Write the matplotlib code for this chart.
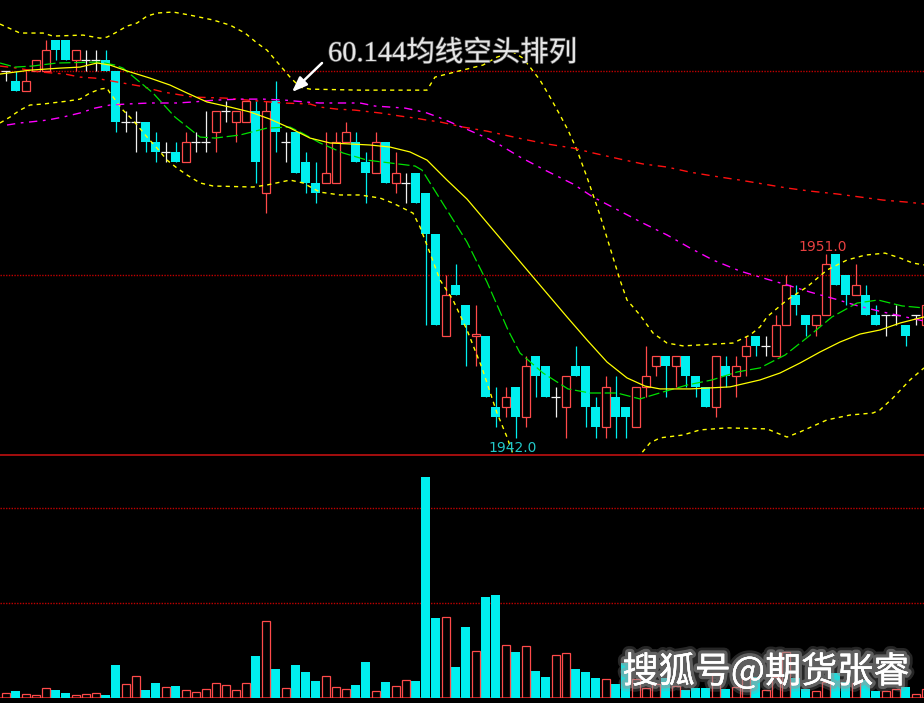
import matplotlib
matplotlib.use('Agg')
import matplotlib.pyplot as plt
import matplotlib.patheffects as pe
import numpy as np

# K线数据 (1分钟), 读自原图
opens = [1960.0, 1959.5, 1959.0, 1960.0, 1960.0, 1961.5, 1961.5, 1960.5, 1960.5, 1960.5,
         1960.5, 1960.0, 1957.5, 1957.5, 1957.5, 1956.5, 1956.0, 1956.0, 1955.5, 1956.5,
         1956.5, 1957.0, 1958.0, 1957.5, 1957.5, 1958.0, 1954.0, 1958.5, 1956.5, 1957.0,
         1955.5, 1954.5, 1954.5, 1954.5, 1956.5, 1956.5, 1955.5, 1955.0, 1956.5, 1954.5,
         1954.5, 1955.0, 1954.0, 1952.0, 1947.0, 1949.5, 1948.5, 1947.0, 1947.0, 1943.5,
         1943.5, 1944.5, 1943.0, 1946.0, 1945.5, 1944.0, 1943.5, 1945.5, 1945.5, 1943.5,
         1942.5, 1944.0, 1943.5, 1942.5, 1944.5, 1945.5, 1946.0, 1945.5, 1946.0, 1945.0,
         1944.5, 1943.5, 1945.5, 1945.0, 1946.0, 1947.0, 1946.5, 1946.0, 1947.5, 1949.0,
         1948.0, 1947.5, 1948.0, 1951.0, 1950.0, 1949.0, 1949.0, 1948.0, 1948.0, 1948.0,
         1947.5, 1948.0, 1947.5]
highs = [1960.0, 1960.0, 1960.0, 1960.5, 1961.5, 1961.5, 1961.5, 1961.0, 1961.0, 1961.0,
         1961.0, 1960.0, 1958.0, 1958.0, 1957.5, 1957.0, 1956.5, 1956.5, 1957.0, 1957.0,
         1958.0, 1958.0, 1958.5, 1958.0, 1958.5, 1958.5, 1958.5, 1959.5, 1957.0, 1957.0,
         1956.0, 1955.5, 1957.0, 1957.0, 1957.5, 1957.0, 1956.0, 1957.0, 1956.5, 1956.0,
         1955.0, 1955.0, 1954.0, 1952.0, 1950.0, 1950.5, 1948.5, 1948.5, 1947.0, 1944.5,
         1944.5, 1944.5, 1946.0, 1946.0, 1945.5, 1944.5, 1945.0, 1946.5, 1945.5, 1944.0,
         1945.0, 1945.0, 1943.5, 1944.5, 1946.5, 1946.0, 1946.0, 1946.0, 1946.0, 1945.0,
         1944.5, 1946.0, 1946.0, 1946.0, 1947.0, 1947.0, 1947.0, 1948.0, 1950.0, 1949.5,
         1948.0, 1948.0, 1951.0, 1951.0, 1950.0, 1950.5, 1949.5, 1948.5, 1948.0, 1948.5,
         1947.5, 1948.0, 1948.5]
lows = [1959.5, 1959.0, 1959.0, 1960.0, 1960.0, 1960.5, 1960.5, 1960.0, 1960.0, 1960.0,
        1960.0, 1957.0, 1957.0, 1956.0, 1956.0, 1955.5, 1955.5, 1955.5, 1955.5, 1956.0,
        1956.0, 1956.0, 1957.5, 1956.5, 1957.5, 1954.5, 1953.0, 1956.0, 1955.5, 1955.0,
        1954.0, 1953.5, 1954.5, 1954.5, 1956.5, 1955.5, 1953.5, 1955.0, 1954.5, 1954.0,
        1953.5, 1953.5, 1947.5, 1947.5, 1947.0, 1949.0, 1945.5, 1945.5, 1944.0, 1942.5,
        1943.0, 1942.0, 1942.5, 1944.0, 1944.0, 1943.0, 1942.0, 1945.0, 1942.5, 1942.0,
        1942.0, 1942.0, 1942.0, 1942.5, 1944.0, 1945.0, 1944.0, 1944.5, 1944.5, 1944.0,
        1943.5, 1943.0, 1944.5, 1944.0, 1945.0, 1946.0, 1946.0, 1946.0, 1947.5, 1948.0,
        1947.0, 1947.0, 1948.0, 1949.5, 1948.5, 1949.0, 1948.0, 1947.5, 1947.0, 1947.5,
        1946.5, 1947.5, 1947.5]
closes = [1960.0, 1959.0, 1959.5, 1960.5, 1961.0, 1961.0, 1960.5, 1961.0, 1960.5, 1960.5,
          1960.0, 1957.5, 1957.5, 1957.5, 1956.5, 1956.0, 1956.0, 1955.5, 1956.5, 1956.5,
          1956.5, 1958.0, 1958.0, 1958.0, 1958.5, 1955.5, 1958.0, 1957.0, 1956.5, 1955.0,
          1954.5, 1954.0, 1955.0, 1956.5, 1957.0, 1955.5, 1955.0, 1956.5, 1954.5, 1955.0,
          1954.5, 1953.5, 1952.0, 1947.5, 1949.0, 1949.0, 1947.5, 1947.1, 1944.0, 1943.0,
          1944.0, 1943.0, 1945.5, 1945.0, 1944.0, 1944.0, 1945.0, 1945.0, 1943.5, 1942.5,
          1944.5, 1943.0, 1943.0, 1944.5, 1945.0, 1946.0, 1945.5, 1946.0, 1945.0, 1944.5,
          1943.5, 1946.0, 1945.0, 1945.5, 1946.5, 1946.5, 1946.5, 1947.5, 1949.5, 1948.5,
          1947.5, 1948.0, 1950.5, 1949.5, 1949.0, 1949.5, 1948.0, 1947.5, 1948.0, 1948.0,
          1947.0, 1948.0, 1948.5]
volumes = [50, 73, 40, 30, 100, 83, 53, 30, 40, 50,
           33, 330, 140, 220, 83, 153, 110, 123, 80, 60,
           90, 150, 130, 80, 150, 423, 770, 293, 100, 330,
           263, 173, 220, 110, 90, 133, 363, 70, 163, 120,
           180, 173, 2213, 803, 810, 313, 713, 470, 1013, 1033,
           530, 463, 520, 273, 213, 430, 450, 293, 263, 203,
           193, 143, 350, 193, 100, 143, 200, 123, 83, 103,
           103, 250, 93, 110, 200, 217, 83, 217, 460, 200,
           93, 73, 167, 257, 167, 150, 183, 73, 73, 93,
           113, 40, 90]

# 均线 / 布林带 (按K线序号取样)
ma_short_x = [-0.55, 0.95, 2.65, 5.15, 9.45, 10.95, 11.75, 14.75, 16.95, 19.45, 20.95, 23.45,
              26.15, 28.45, 29.65, 31.45, 33.75, 36.15, 38.45, 40.95, 41.65, 44.15, 46.15,
              48.15, 50.25, 51.45, 53.75, 56.25, 58.45, 61.15, 63.45, 65.75, 68.15, 70.65,
              73.15, 75.45, 77.95, 80.25, 82.65, 85.15, 87.25, 89.65, 91.85]
ma_short = [1960.37, 1960.17, 1960.22, 1960.37, 1960.42, 1960.27, 1960.12, 1958.90, 1957.72,
            1956.74, 1956.69, 1956.84, 1957.18, 1957.23, 1956.94, 1956.45, 1955.96, 1955.61,
            1955.47, 1955.32, 1955.12, 1953.16, 1951.59, 1949.63, 1947.28, 1946.15, 1945.17,
            1944.39, 1944.19, 1944.19, 1943.90, 1944.24, 1944.58, 1944.83, 1945.22, 1945.42,
            1946.05, 1946.94, 1947.92, 1948.60, 1948.75, 1948.46, 1948.36]
ma_mid_x = [-0.55, 2.45, 5.45, 7.45, 9.15, 10.45, 12.15, 14.45, 16.45, 18.15, 20.15, 22.45,
            24.45, 26.45, 28.45, 30.45, 32.45, 34.45, 36.45, 38.45, 40.45, 42.15, 44.15, 46.15,
            49.45, 52.75, 56.15, 58.15, 60.15, 62.15, 63.95, 65.45, 68.45, 72.45, 75.45, 77.45,
            79.45, 81.45, 83.45, 85.45, 87.45, 89.45, 91.85]
ma_mid = [1959.83, 1960.02, 1960.12, 1960.17, 1960.37, 1960.27, 1959.98, 1959.63, 1959.29,
          1958.90, 1958.46, 1958.21, 1957.97, 1957.62, 1957.18, 1956.69, 1956.45, 1956.40,
          1956.35, 1956.25, 1956.01, 1955.61, 1954.63, 1953.70, 1951.79, 1949.88, 1947.92,
          1946.79, 1945.71, 1944.93, 1944.53, 1944.39, 1944.39, 1944.49, 1944.83, 1945.17,
          1945.66, 1946.20, 1946.69, 1947.08, 1947.28, 1947.62, 1947.92]
ma_60_x = [0.15, 1.45, 2.45, 4.15, 5.75, 7.45, 8.95, 10.45, 12.15, 14.45, 17.15, 18.75, 20.95,
           23.45, 25.75, 27.95, 29.95, 31.45, 33.95, 35.45, 36.95, 38.45, 39.95, 40.95, 42.15,
           43.25, 44.45, 46.75, 48.15, 49.45, 51.45, 54.15, 56.75, 58.75, 61.45, 63.75, 66.15,
           68.45, 70.75, 73.45, 75.75, 78.15, 80.45, 82.95, 85.25, 87.75, 90.45, 91.85]
ma_60 = [1957.33, 1957.43, 1957.48, 1957.57, 1957.72, 1957.92, 1958.16, 1958.31, 1958.36,
         1958.41, 1958.41, 1958.46, 1958.55, 1958.60, 1958.60, 1958.55, 1958.46, 1958.41,
         1958.41, 1958.41, 1958.26, 1958.21, 1958.16, 1958.06, 1957.92, 1957.72, 1957.48,
         1956.99, 1956.69, 1956.35, 1955.76, 1955.07, 1954.44, 1953.80, 1953.11, 1952.52,
         1951.94, 1951.30, 1950.71, 1950.17, 1949.83, 1949.49, 1949.14, 1948.80, 1948.46,
         1948.16, 1947.87, 1947.72]
ma_144_x = [-0.55, 1.15, 3.45, 5.95, 7.45, 8.95, 11.15, 13.45, 15.75, 18.75, 21.95, 25.45,
            27.75, 30.45, 31.45, 33.15, 34.95, 37.45, 39.45, 40.95, 42.15, 43.45, 45.75, 48.15,
            51.75, 54.15, 56.75, 58.75, 61.45, 63.75, 66.15, 68.45, 70.75, 73.45, 75.75, 78.15,
            80.45, 83.15, 85.45, 87.75, 90.15, 91.85]
ma_144 = [1960.22, 1960.12, 1959.93, 1959.83, 1959.68, 1959.63, 1959.44, 1959.24, 1958.95,
          1958.70, 1958.65, 1958.50, 1958.41, 1958.36, 1958.21, 1958.11, 1958.06, 1957.92,
          1957.77, 1957.67, 1957.57, 1957.48, 1957.23, 1957.03, 1956.64, 1956.40, 1956.20,
          1955.96, 1955.66, 1955.42, 1955.27, 1955.02, 1954.83, 1954.63, 1954.44, 1954.24,
          1954.09, 1953.95, 1953.80, 1953.65, 1953.55, 1953.46]
boll_up_x = [-0.55, 1.45, 3.75, 4.75, 7.75, 9.45, 10.15, 10.95, 12.15, 13.15, 14.15, 15.15,
             16.75, 18.45, 20.75, 22.45, 23.95, 25.15, 26.15, 27.25, 28.45, 29.45, 30.45, 35.45,
             42.15, 42.95, 44.95, 47.75, 49.15, 50.75, 51.75, 52.45, 53.45, 54.45, 55.45, 56.25,
             57.15, 58.15, 59.45, 60.75, 61.45, 62.15, 63.45, 64.75, 66.15, 67.75, 72.75, 74.45,
             75.45, 76.15, 78.15, 80.15, 82.15, 84.15, 85.95, 87.95, 89.45, 90.75, 91.85]
boll_up = [1962.28, 1961.84, 1961.84, 1961.69, 1961.74, 1961.59, 1961.64, 1961.84, 1962.18,
           1962.33, 1962.67, 1962.82, 1962.87, 1962.72, 1962.48, 1962.23, 1961.84, 1961.35,
           1961.00, 1960.37, 1959.68, 1959.19, 1959.09, 1959.04, 1959.04, 1959.68, 1959.93,
           1960.27, 1960.66, 1960.91, 1960.61, 1960.17, 1959.53, 1958.70, 1957.82, 1957.08,
           1956.10, 1954.77, 1952.91, 1950.84, 1949.73, 1948.75, 1948.01, 1947.13, 1946.64,
           1946.50, 1946.64, 1947.03, 1947.43, 1947.92, 1948.75, 1949.39, 1950.22, 1950.71,
           1950.95, 1951.05, 1950.81, 1950.56, 1950.47]
boll_dn_x = [-0.55, 0.45, 1.45, 2.45, 3.75, 6.15, 7.45, 8.45, 9.45, 10.15, 10.45, 11.75, 12.75,
             14.15, 15.15, 16.15, 17.15, 18.15, 19.45, 20.75, 24.75, 26.15, 28.45, 29.75, 31.45,
             33.45, 35.45, 37.45, 38.75, 40.75, 41.45, 42.45, 43.45, 44.75, 46.15, 47.65, 49.15,
             50.15, 50.95, 55.45, 59.45, 63.45, 64.45, 65.45, 67.75, 69.45, 72.15, 76.15, 78.15,
             79.45, 82.15, 84.45, 86.75, 87.45, 88.75, 90.45, 91.85]
boll_dn = [1957.43, 1957.72, 1958.06, 1958.31, 1958.36, 1958.50, 1958.60, 1958.90, 1959.09,
           1959.14, 1958.90, 1958.06, 1957.57, 1956.74, 1956.20, 1955.61, 1955.22, 1954.88,
           1954.49, 1954.34, 1954.29, 1954.39, 1954.63, 1954.49, 1954.04, 1953.90, 1953.90,
           1953.75, 1953.50, 1953.01, 1952.33, 1951.05, 1949.73, 1948.75, 1947.28, 1945.42,
           1943.21, 1942.03, 1940.91, 1939.93, 1940.17, 1941.15, 1941.74, 1941.99, 1942.13,
           1942.38, 1942.48, 1942.43, 1942.03, 1942.28, 1942.87, 1943.11, 1943.21, 1943.36,
           1943.95, 1944.83, 1945.42]

price_lines = [1950.0, 1960.0]
vol_lines = [950, 1900]
note = '60.144均线空头排列'
watermark = '搜狐号@期货张睿'

up_c = '#ff4a4a'
dn_c = '#00efef'
doji_c = '#f0f0f0'
grid_c = '#c00000'

o = np.array(opens)
h = np.array(highs)
l = np.array(lows)
c = np.array(closes)
v = np.array(volumes)
idx = np.arange(len(o))
up = c > o
dn = c < o
eq = c == o

fig = plt.figure(figsize=(9.24, 7.03), dpi=100, facecolor='black')
ax = fig.add_axes([0, 248 / 703, 1, 455 / 703])
axv = fig.add_axes([0, 4.7 / 703, 1, 243 / 703])
for a in (ax, axv):
    a.set_facecolor('black')
    a.set_xlim(-0.55, 91.85)
    a.axis('off')
ax.set_ylim(1941.15, 1963.46)
axv.set_ylim(0, 2430)

# 价格网格
for p in price_lines:
    ax.axhline(p, color=grid_c, lw=1.0, ls=(0, (1, 1)), zorder=1)

# K线
ax.vlines(idx[up], c[up], h[up], color=up_c, lw=0.9, zorder=2)
ax.vlines(idx[up], l[up], o[up], color=up_c, lw=0.9, zorder=2)
ax.bar(idx[up], c[up] - o[up], bottom=o[up], width=0.8, facecolor='none',
       edgecolor=up_c, lw=0.9, zorder=2)
ax.vlines(idx[dn], l[dn], h[dn], color=dn_c, lw=0.9, zorder=2)
ax.bar(idx[dn], o[dn] - c[dn], bottom=c[dn], width=0.9, color=dn_c, lw=0, zorder=2)
ax.vlines(idx[eq], l[eq], h[eq], color=doji_c, lw=0.9, zorder=2)
ax.hlines(o[eq], idx[eq] - 0.45, idx[eq] + 0.45, color=doji_c, lw=0.9, zorder=2)

# 均线与布林带
ax.plot(boll_up_x, boll_up, color='#ffff00', lw=1.0, ls=(0, (3, 3)), zorder=3)
ax.plot(boll_dn_x, boll_dn, color='#ffff00', lw=1.0, ls=(0, (3, 3)), zorder=3)
ax.plot(ma_144_x, ma_144, color='#ff1010', lw=1.0, ls=(0, (6, 4, 2, 4)), zorder=3)
ax.plot(ma_60_x, ma_60, color='#ff00ff', lw=1.0, ls=(0, (6, 4, 2, 4)), zorder=3)
ax.plot(ma_short_x, ma_short, color='#00e000', lw=0.9, ls=(0, (9, 3)), zorder=3)
ax.plot(ma_mid_x, ma_mid, color='#ffff00', lw=0.9, zorder=3)

# 最低 / 反弹高点标注
lo_i = int(np.argmin(l))
hi_i = lo_i + int(np.argmax(h[lo_i:]))
num_font = ['Liberation Sans Narrow', 'DejaVu Sans']
ax.annotate(f'{h[hi_i]:.1f}', xy=(hi_i, h[hi_i]), xytext=(-2.2, 2.4),
            textcoords='offset points', ha='center', va='baseline',
            color='#e84040', fontsize=10, family=num_font, zorder=4)
ax.annotate(f'{l[lo_i]:.1f}', xy=(lo_i, l[lo_i]), xytext=(-2.2, -10.0),
            textcoords='offset points', ha='center', va='baseline',
            color='#22c8c8', fontsize=10, family=num_font, zorder=4)

# 文字说明与箭头
fig.text(328 / 924, 1 - 61 / 703, note, color='#e6e6e6', fontsize=20.5,
         family=['Liberation Serif', 'Noto Sans CJK SC'], weight='light',
         ha='left', va='baseline',
         path_effects=[pe.withStroke(linewidth=1.0, foreground='#505050')])
ax.annotate('', xy=(292, 703 - 92), xycoords='figure pixels',
            xytext=(322, 703 - 63), textcoords='figure pixels',
            arrowprops=dict(arrowstyle='-|>,head_length=0.9,head_width=0.35',
                            color='white', lw=1.8, shrinkA=0, shrinkB=0))

# 成交量
axv.axhline(0, color='#d02020', lw=1.2, zorder=1)
axv.axhline(2430, color='#c01010', lw=1.2, zorder=1, clip_on=False)
for p in vol_lines:
    axv.axhline(p, color=grid_c, lw=1.0, ls=(0, (1, 1)), zorder=1)
vdn = dn
vup = ~dn
axv.bar(idx[vdn], v[vdn], width=0.9, color=dn_c, lw=0, zorder=2)
axv.bar(idx[vup], v[vup], width=0.8, facecolor='none', edgecolor=up_c, lw=0.9, zorder=2)

# 水印
fig.text(766 / 924, 1 - 672 / 703, watermark, color='white', fontsize=26,
         family=['Noto Sans CJK SC', 'DejaVu Sans'], weight='medium',
         ha='center', va='center',
         path_effects=[pe.withStroke(linewidth=9, foreground=(0.6, 0.6, 0.6, 0.25)),
                       pe.withStroke(linewidth=5, foreground=(0.6, 0.6, 0.6, 0.5)),
                       pe.Normal()])

fig.savefig('out.png', dpi=100, facecolor='black')
